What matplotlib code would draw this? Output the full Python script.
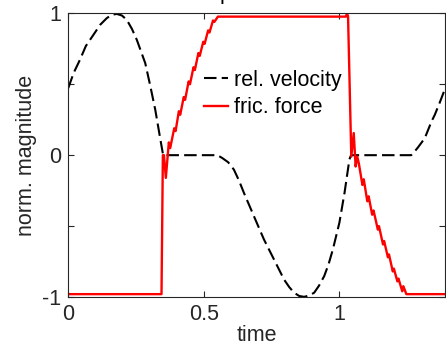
import matplotlib
matplotlib.use('Agg')
import matplotlib.pyplot as plt

plt.rcParams['font.family'] = ['Liberation Sans', 'DejaVu Sans']

# relative velocity (normalised)
vel_t = [0, 0.02, 0.043, 0.065, 0.093, 0.118, 0.142, 0.16, 0.179, 0.198, 0.216, 0.235,
         0.253, 0.284, 0.303, 0.321, 0.340, 0.350, 0.550, 0.568, 0.59, 0.611, 0.63, 0.648,
         0.685, 0.722, 0.759, 0.796, 0.815, 0.833, 0.852, 0.870, 0.888, 0.907, 0.925,
         0.944, 0.960, 0.976, 1.000, 1.019, 1.037, 1.043, 1.265, 1.278, 1.29, 1.302,
         1.315, 1.340, 1.352, 1.37, 1.39]
vel_v = [0.473, 0.58, 0.672, 0.77, 0.849, 0.92, 0.966, 0.99, 0.996, 0.985, 0.954, 0.89,
         0.813, 0.649, 0.485, 0.320, 0.109, 0, 0, -0.02, -0.05, -0.102, -0.18, -0.266,
         -0.431, -0.595, -0.736, -0.877, -0.93, -0.970, -0.993, -0.999, -0.99, -0.970, -0.92,
         -0.853, -0.77, -0.665, -0.477, -0.266, -0.03, 0, 0, 0.027, 0.055, 0.086,
         0.12, 0.238, 0.285, 0.37, 0.47]

# friction force (normalised)
fr_t = [0, 0.344, 0.349, 0.353, 0.360, 0.371, 0.376, 0.391, 0.396, 0.408, 0.413,
        0.426, 0.431, 0.444, 0.449, 0.462, 0.467, 0.480, 0.485, 0.498, 0.503,
        0.516, 0.521, 0.534, 0.539, 0.552, 1.024, 1.028, 1.032, 1.044, 1.053,
        1.060, 1.066, 1.072, 1.085, 1.090, 1.103, 1.108, 1.121, 1.126, 1.142,
        1.146, 1.161, 1.165, 1.179, 1.183, 1.197, 1.201, 1.214, 1.218, 1.232,
        1.236, 1.247, 1.39]
fr_v = [-0.98, -0.98, 0.0, 0.0, -0.16, 0.09, 0.05, 0.19, 0.17, 0.31, 0.285,
        0.41, 0.39, 0.52, 0.50, 0.62, 0.60, 0.72, 0.70, 0.80, 0.785,
        0.88, 0.865, 0.95, 0.94, 0.977, 0.977, 1.0, 0.98, -0.01, 0.156,
        -0.08, -0.01, -0.06, -0.21, -0.17, -0.325, -0.29, -0.42, -0.39, -0.525,
        -0.50, -0.63, -0.605, -0.72, -0.70, -0.82, -0.80, -0.89, -0.87, -0.96,
        -0.924, -0.98, -0.98]

xticks = [0, 0.5, 1]
xticklabels = ['0', '0.5', '1']
yticks = [-1, -0.5, 0, 0.5, 1]
yticklabels = ['-1', '', '0', '', '1']

fs = 15.5

fig = plt.figure(figsize=(4.46, 3.48), dpi=100)
ax = fig.add_axes([0.153, 0.1466, 0.845, 0.815])

ax.plot(vel_t, vel_v, color='black', lw=1.5, dashes=(6, 2.5), label='rel. velocity')
ax.plot(fr_t, fr_v, color='red', lw=1.7, label='fric. force')

ax.set_xlim(0, 1.39)
ax.set_ylim(-1, 1)
ax.set_xticks(xticks)
ax.set_xticklabels(xticklabels)
ax.set_yticks(yticks)
ax.set_yticklabels(yticklabels)
ax.tick_params(direction='in', length=4, width=0.8, colors='#262626',
               labelsize=fs, top=True, right=True, pad=5)
for s in ax.spines.values():
    s.set_color('#262626')
    s.set_linewidth(0.8)

ax.set_xlabel('time', fontsize=fs, labelpad=0, color='#262626')
ax.set_ylabel('norm. magnitude', fontsize=fs, labelpad=4, color='#262626')

ax.legend(loc='center left', bbox_to_anchor=(0.36, 0.716), frameon=False,
          fontsize=fs, handlelength=1.1, handletextpad=0.3, labelspacing=0.3,
          borderpad=0, borderaxespad=0)

# title is cut off at the top edge, only the tail of a letter shows
fig.text(0.505, 1.004, 'p', fontsize=fs, ha='center', va='baseline')

fig.savefig('out.png', dpi=100)
